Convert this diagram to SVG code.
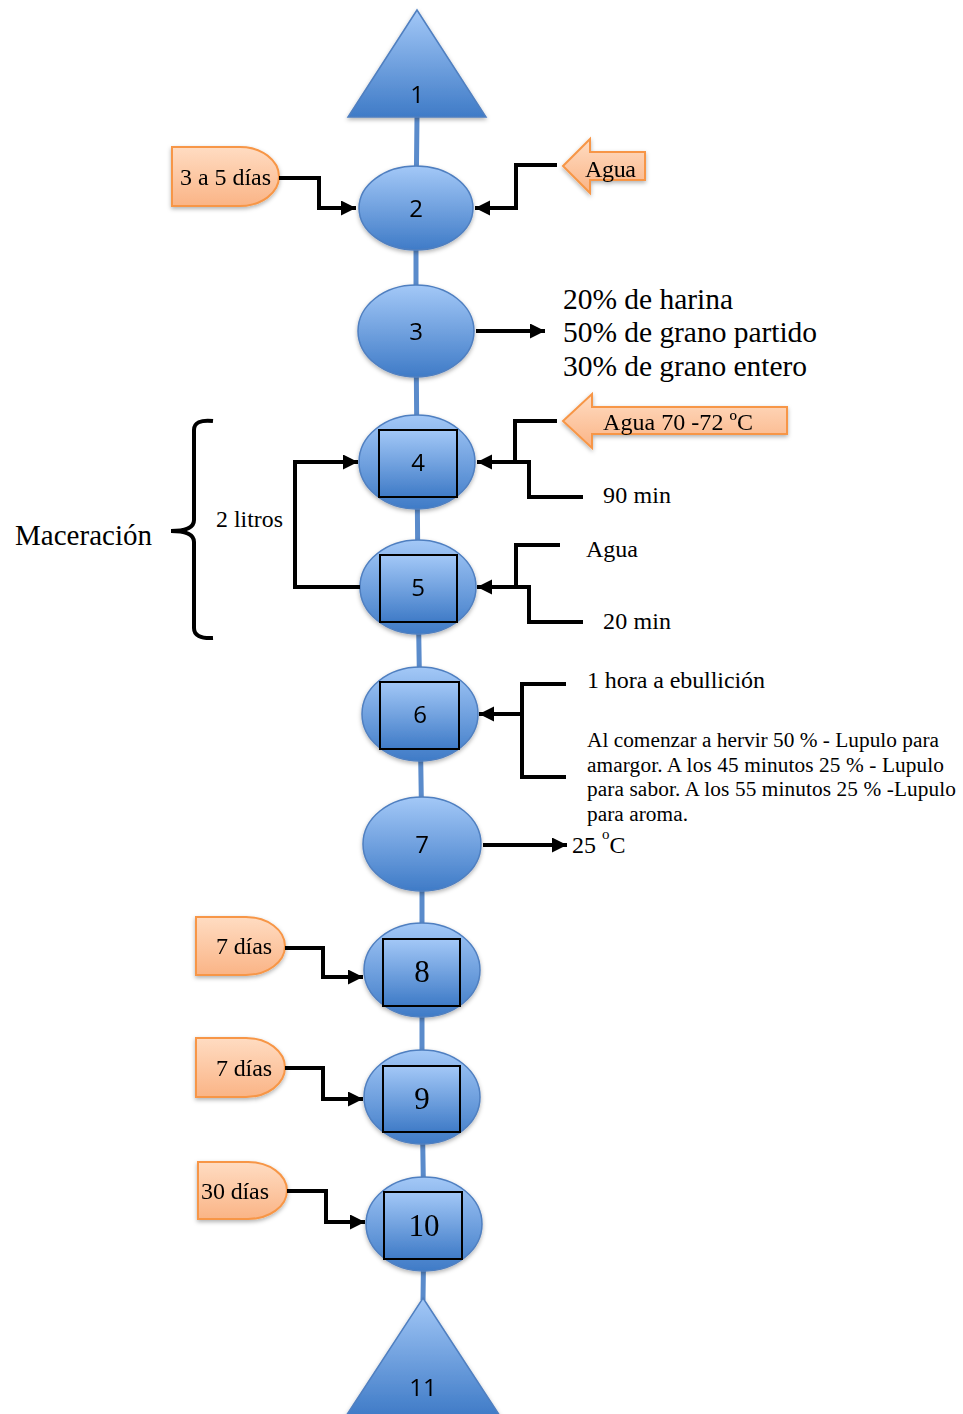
<svg xmlns="http://www.w3.org/2000/svg" width="963" height="1414" viewBox="0 0 963 1414">
<style>
.node{stroke:#4F7FC0;stroke-width:1.5}
.sq{fill:url(#blueG);stroke:#000;stroke-width:2}
.num{font-family:"Open Sans","Liberation Sans",sans-serif;font-size:24px;fill:#000;text-anchor:middle}
.numS{font-family:"Liberation Serif",serif;font-size:31px;fill:#000;text-anchor:middle}
.orange{fill:url(#orG);stroke:#F79646;stroke-width:2}
.t{font-family:"Liberation Serif",serif;fill:#000}
.conn{fill:none;stroke:#000;stroke-width:4;stroke-linejoin:miter}
.spine{fill:none;stroke:#5A8BCB;stroke-width:5}
</style>
<defs>
<linearGradient id="blueG" x1="0" y1="0" x2="0" y2="1">
<stop offset="0" stop-color="#A3C8F7"/>
<stop offset="1" stop-color="#3F7BC7"/>
</linearGradient>
<linearGradient id="orG" x1="0" y1="0" x2="0" y2="1">
<stop offset="0" stop-color="#FFDCC2"/>
<stop offset="1" stop-color="#FAB486"/>
</linearGradient>
<filter id="sh" x="-20%" y="-20%" width="140%" height="150%">
<feDropShadow dx="0" dy="2" stdDeviation="2" flood-color="#000" flood-opacity="0.3"/>
</filter>
<marker id="ah" markerUnits="userSpaceOnUse" markerWidth="18" markerHeight="16" refX="15" refY="7.5" orient="auto">
<path d="M0,0 L15,7.5 L0,15 Z" fill="#000"/>
</marker>
</defs>

<polyline class="spine" points="417,117 416,208 416,331 417,462 418,587 420,714 422,844 422,970 422,1097 424,1224 423,1300"/>

<g id="n1" filter="url(#sh)">
<polygon class="node" fill="url(#blueG)" points="417,10 486,117 348,117"/>
<text class="num" x="417" y="103">1</text>
</g>
<g id="n2" filter="url(#sh)">
<ellipse class="node" fill="url(#blueG)" cx="416" cy="208" rx="57" ry="42"/>
<text class="num" x="416" y="217">2</text>
</g>
<g id="n3" filter="url(#sh)">
<ellipse class="node" fill="url(#blueG)" cx="416" cy="331" rx="58" ry="46"/>
<text class="num" x="416" y="340">3</text>
</g>
<g id="n4" filter="url(#sh)">
<ellipse class="node" fill="url(#blueG)" cx="417" cy="462" rx="58" ry="47"/>
<rect class="sq" x="379" y="430" width="78" height="67"/>
<text class="num" x="418" y="471">4</text>
</g>
<g id="n5" filter="url(#sh)">
<ellipse class="node" fill="url(#blueG)" cx="418" cy="587" rx="58" ry="47"/>
<rect class="sq" x="380" y="555" width="77" height="67"/>
<text class="num" x="418" y="596">5</text>
</g>
<g id="n6" filter="url(#sh)">
<ellipse class="node" fill="url(#blueG)" cx="420" cy="714" rx="58" ry="47"/>
<rect class="sq" x="380" y="682" width="79" height="67"/>
<text class="num" x="420" y="723">6</text>
</g>
<g id="n7" filter="url(#sh)">
<ellipse class="node" fill="url(#blueG)" cx="422" cy="844" rx="59" ry="47"/>
<text class="num" x="422" y="853">7</text>
</g>
<g id="n8" filter="url(#sh)">
<ellipse class="node" fill="url(#blueG)" cx="422" cy="970" rx="58" ry="47"/>
<rect class="sq" x="383" y="939" width="77" height="67"/>
<text class="numS" x="422" y="982">8</text>
</g>
<g id="n9" filter="url(#sh)">
<ellipse class="node" fill="url(#blueG)" cx="422" cy="1097" rx="58" ry="47"/>
<rect class="sq" x="383" y="1066" width="77" height="66"/>
<text class="numS" x="422" y="1109">9</text>
</g>
<g id="n10" filter="url(#sh)">
<ellipse class="node" fill="url(#blueG)" cx="424" cy="1224" rx="58" ry="47"/>
<rect class="sq" x="384" y="1192" width="78" height="67"/>
<text class="numS" x="424" y="1236">10</text>
</g>
<g id="n11" filter="url(#sh)">
<polygon class="node" fill="url(#blueG)" points="423,1298 500,1416 346,1416"/>
<text class="num" x="423" y="1396">11</text>
</g>

<g id="d1" filter="url(#sh)">
<path class="orange" d="M172,147 H240 A39,29.5 0 0 1 240,206 H172 Z"/>
<text class="t" x="180" y="185" font-size="24" textLength="91">3 a 5 días</text>
</g>
<g id="agua1" filter="url(#sh)">
<polygon class="orange" points="563,166 590,139 590,152 645,152 645,180 590,180 590,193"/>
<text class="t" x="585" y="177" font-size="24" textLength="51">Agua</text>
</g>
<g id="agua2" filter="url(#sh)">
<polygon class="orange" points="563,421 592,394 592,407 787,407 787,434 592,434 592,448"/>
<text class="t" x="603" y="430" font-size="24" textLength="150">Agua 70 -72 ºC</text>
</g>
<g id="d8" filter="url(#sh)">
<path class="orange" d="M196,917 H246 A39,29 0 0 1 246,975 H196 Z"/>
<text class="t" x="216" y="954" font-size="24" textLength="56">7 días</text>
</g>
<g id="d9" filter="url(#sh)">
<path class="orange" d="M196,1038 H246 A39,29.5 0 0 1 246,1097 H196 Z"/>
<text class="t" x="216" y="1076" font-size="24" textLength="56">7 días</text>
</g>
<g id="d10" filter="url(#sh)">
<path class="orange" d="M198,1162 H248 A39,28.5 0 0 1 248,1219 H198 Z"/>
<text class="t" x="201" y="1199" font-size="24" textLength="68">30 días</text>
</g>

<g id="labels">
<text class="t" x="563" y="309" font-size="29.5" textLength="170">20% de harina</text>
<text class="t" x="563" y="342" font-size="29.5" textLength="254">50% de grano partido</text>
<text class="t" x="563" y="376" font-size="29.5" textLength="244">30% de grano entero</text>
<text class="t" x="603" y="503" font-size="24" textLength="68">90 min</text>
<text class="t" x="586" y="557" font-size="24" textLength="52">Agua</text>
<text class="t" x="603" y="629" font-size="24" textLength="68">20 min</text>
<text class="t" x="587" y="688" font-size="24" textLength="178">1 hora a ebullición</text>
<text class="t" x="587" y="747" font-size="21.3" textLength="352">Al comenzar a hervir 50 % - Lupulo para</text>
<text class="t" x="587" y="772" font-size="21.3" textLength="357">amargor. A los 45 minutos 25 % - Lupulo</text>
<text class="t" x="587" y="796" font-size="21.3" textLength="369">para sabor. A los 55 minutos 25 % -Lupulo</text>
<text class="t" x="587" y="821" font-size="21.3" textLength="101">para aroma.</text>
<text class="t" x="572" y="853" font-size="24">25 <tspan font-size="15" dy="-14">o</tspan><tspan dy="14">C</tspan></text>
<text class="t" x="15" y="545" font-size="29" textLength="137">Maceración</text>
<text class="t" x="216" y="527" font-size="23.8" textLength="67">2 litros</text>
</g>

<g id="connectors">
<path class="conn" d="M279,178 H319 V208 H356" marker-end="url(#ah)"/>
<path class="conn" d="M557,165 H516 V208 H475" marker-end="url(#ah)"/>
<path class="conn" d="M476,331 H545" marker-end="url(#ah)"/>
<path class="conn" d="M557,421 H515 V462"/>
<path class="conn" d="M583,497 H529 V462 H477" marker-end="url(#ah)"/>
<path class="conn" d="M560,545 H516 V587"/>
<path class="conn" d="M583,622 H529 V587 H477" marker-end="url(#ah)"/>
<path class="conn" d="M360,587 H295 V462 H358" marker-end="url(#ah)"/>
<path class="conn" d="M566,684 H522 V777 H566"/>
<path class="conn" d="M522,714 H479" marker-end="url(#ah)"/>
<path class="conn" d="M483,845 H567" marker-end="url(#ah)"/>
<path class="conn" d="M285,948 H323 V977 H363" marker-end="url(#ah)"/>
<path class="conn" d="M285,1068 H323 V1099 H363" marker-end="url(#ah)"/>
<path class="conn" d="M287,1191 H326 V1222 H365" marker-end="url(#ah)"/>
<path class="conn" d="M213,421 Q194,419 194,430 V520 Q194,531 171,531 Q194,531 194,542 V628 Q194,639 213,638"/>
</g>
</svg>
